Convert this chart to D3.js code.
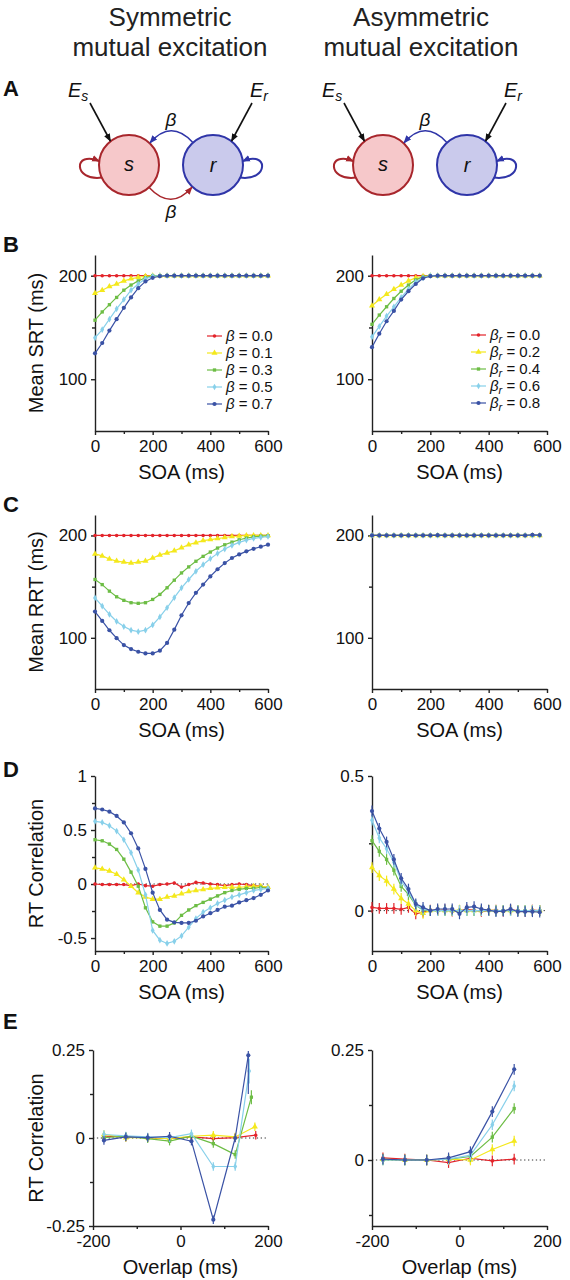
<!DOCTYPE html>
<html><head><meta charset="utf-8">
<script src="https://cdn.jsdelivr.net/npm/d3@7"></script>
<style>
body{margin:0;background:#fff;}
svg{display:block;font-family:"Liberation Sans",Arial,Helvetica,sans-serif;}
</style></head><body>
<svg id="fig" width="570" height="1280"></svg>
<script>
// ---------------- DATA ----------------
const seriesNames = ["red", "yellow", "green", "cyan", "blue"];
const betaSym = ["0.0", "0.1", "0.3", "0.5", "0.7"];
const betaAsym = ["0.0", "0.2", "0.4", "0.6", "0.8"];

const soaSym = [0,25,50,75,100,125,150,175,200,225,250,275,300,325,350,375,400,425,450,475,500,525,550,575,600];
const soaAsym = [0,25,50,75,100,125,150,175,200,225,250,275,300,325,350,375,400,425,450,475,500,525,550,575];
const overlapBins = [-175,-125,-75,-25,25,75,125];
const overlapLastSym = [172,170,162,157,155];

// B: Mean SRT
const srtSym0 = [200,200,200,200,200,200,200,200,200,200,200,200,200,200,200,200,200,200,200,200,200,200,200,200,200];
const srtSym1 = [183,186,189.5,192,195,197,198.5,199.5,200,200,200,200,200,200,200,200,200,200,200,200,200,200,200,200,200];
const srtSym3 = [157,165,172,179,186,191,195,198,200,200,200,200,200,200,200,200,200,200,200,200,200,200,200,200,200];
const srtSym5 = [140,148,158,168,177,186,192,197,199.5,200,200,200,200,200,200,200,200,200,200,200,200,200,200,200,200];
const srtSym7 = [125,135,147,158,169,179,188,194.5,198,199.5,200,200,200,200,200,200,200,200,200,200,200,200,200,200,200];

const srtAsym0 = [200,200,200,200,200,200,200,200,200,200,200,200,200,200,200,200,200,200,200,200,200,200,200,200];
const srtAsym2 = [171,177,182,187,191,195,198,199.5,200,200,200,200,200,200,200,200,200,200,200,200,200,200,200,200];
const srtAsym4 = [153,162,170,178,185,191,196,199,200,200,200,200,200,200,200,200,200,200,200,200,200,200,200,200];
const srtAsym6 = [141,151,161,170,179,187,194,198,200,200,200,200,200,200,200,200,200,200,200,200,200,200,200,200];
const srtAsym8 = [131,144,156,166,177,185,192,197.5,199.5,200,200,200,200,200,200,200,200,200,200,200,200,200,200,200];

// C: Mean RRT
const rrtSym0 = [200,200,200,200,200,200,200,200,200,200,200,200,200,200,200,200,200,200,200,200,200,200,200,200,200];
const rrtSym1 = [182,180,177,175,174,173,174,175,178,181,183,185,188,191,193,195,196,197,198,199,199.5,200,200,200,200];
const rrtSym3 = [157,152,145.6,140.1,136.6,134.3,133.7,134.3,137.5,142.4,148.9,156.3,163.4,169.3,174.8,179.6,183.8,187.7,190.9,193.5,195.8,197.4,198.7,199.4,199.7];
const rrtSym5 = [139,131,123,116,111,107.5,106,107.5,112.6,120.4,129.4,139.2,148.9,157,165,171.5,177.3,182.5,186.7,190.3,193.2,195.5,197.1,198.1,199];
const rrtSym7 = [125.6,116.5,107.4,99.7,92.9,89,86.4,84.8,84.8,87.4,95,108,122,134,144,152,160,167,173,178,181.5,184.5,187,189,191];

const rrtAsym0 = [200,200,200,200,200,200,200,200,200,200,200,200,200,200,200,200,200,200,200,200,200,200,200,200];
const rrtAsym2 = [200,200,200,200,200,200,200,200,200,200,200,200,200,200,200,200,200,200,200,200,200,200,200,200];
const rrtAsym4 = [200,200,200,200,200,200,200,200,200,200,200,200,200,200,200,200,200,200,200,200,200,200,200,200];
const rrtAsym6 = [200,200,200,200,200,200,200,200,200,200,200,200,200,200,200,200,200,200,200,200,200,200,200,200];
const rrtAsym8 = [200,200,200,200,200,200,200,200,200,200.3,200,200,200,200,200,200,200,200,200,200,200,200,200.6,200.4];

// D: RT correlation vs SOA
const corSym0 = [0,-0.005,-0.005,-0.005,-0.005,-0.015,0,-0.015,-0.02,-0.005,0,0.01,-0.028,-0.005,0.015,0.01,0,-0.005,-0.015,-0.005,0,-0.005,-0.015,-0.02,-0.035];
const corSym1 = [0.15,0.14,0.12,0.09,0.04,-0.02,-0.08,-0.12,-0.14,-0.14,-0.12,-0.11,-0.09,-0.07,-0.06,-0.05,-0.04,-0.035,-0.03,-0.03,-0.03,-0.025,-0.02,-0.02,-0.03];
const corSym3 = [0.41,0.40,0.37,0.32,0.23,0.11,-0.02,-0.22,-0.35,-0.39,-0.39,-0.36,-0.29,-0.24,-0.20,-0.17,-0.14,-0.11,-0.08,-0.06,-0.05,-0.04,-0.04,-0.03,-0.04];
const corSym5 = [0.58,0.57,0.54,0.49,0.41,0.29,0.13,-0.10,-0.43,-0.52,-0.55,-0.53,-0.48,-0.40,-0.32,-0.26,-0.22,-0.18,-0.15,-0.12,-0.10,-0.08,-0.06,-0.05,-0.04];
const corSym7 = [0.70,0.69,0.67,0.63,0.57,0.47,0.33,0.14,-0.08,-0.24,-0.33,-0.355,-0.36,-0.36,-0.34,-0.30,-0.27,-0.24,-0.21,-0.20,-0.17,-0.15,-0.13,-0.10,-0.06];

const corAsym0 = [0.012,0.008,0.008,0.008,0.005,0.012,-0.012,-0.006,0.002,0,0.003,-0.002,0,0.004,0.002,-0.003,0,0.002,-0.002,0.003,0,-0.002,0.002,0];
const corAsym2 = [0.16,0.13,0.11,0.08,0.045,0.025,0,-0.01,0,0.002,0,0,0.002,0,0,0,0.002,0,0,0,0,0,0,0];
const corAsym4 = [0.26,0.22,0.19,0.15,0.09,0.06,0.02,0.002,0,0,0,0,0,0,0,0,0,0,0,0,0,0,0,0];
const corAsym6 = [0.336,0.27,0.23,0.18,0.11,0.07,0.02,0.005,0,0,0,0,0,0,0,0,0,0,0,0,0,0,0,0];
const corAsym8 = [0.37,0.305,0.255,0.19,0.12,0.08,0.025,0.012,0,0.006,0.006,0.006,-0.012,0.012,0.015,0.006,0.002,-0.004,-0.002,0.006,-0.004,-0.004,-0.004,-0.006];
const corSymErr = 0.012;
const corAsymErr = 0.02;

// E: RT correlation vs overlap
const ovSym0 = [0.005,0.003,0.001,-0.002,0.003,-0.002,0.001,0.008];
const ovSym1 = [0.01,0.001,0.001,-0.002,0.005,0.008,0.003,0.032];
const ovSym3 = [0.001,0.005,-0.002,-0.009,0.005,-0.016,-0.047,0.116];
const ovSym5 = [0.01,0.006,0.003,0.001,0.012,-0.081,-0.081,0.19];
const ovSym7 = [-0.007,0.003,0.001,0.005,-0.009,-0.232,0.0,0.235];
const ovSymErrLastLo = [0.012,0.012,0.02,0.035,0.11];
const ovSymErrLastHi = [0.012,0.012,0.02,0.035,0.012];
const ovAsym0 = [0.005,0.002,0,-0.006,0.004,-0.002,0.002];
const ovAsym2 = [0.002,0,0,0.002,0,0.024,0.043];
const ovAsym4 = [0,0,0,0.002,0.008,0.052,0.117];
const ovAsym6 = [0,0,0,0.002,0.011,0.08,0.168];
const ovAsym8 = [0.002,0,0,0.005,0.019,0.11,0.206];
const ovErr = 0.012;

// ---------------- STYLE ----------------
const colors = ["#e3242b", "#f4e81c", "#6dbd45", "#88d0ea", "#3a52a5"];
const symbols = [d3.symbolCircle, d3.symbolTriangle, d3.symbolSquare, d3.symbolDiamond, d3.symbolCircle];
const symSizes = [10, 16, 11, 13, 14];

const svg = d3.select("#fig");
const LX = [95, 268], RX = [372, 547];

// ---------------- HEADERS ----------------
function header(cx, l1, l2) {
  const t = svg.append("g").attr("fill", "#222").attr("font-size", 26).attr("text-anchor", "middle");
  t.append("text").attr("x", cx).attr("y", 26).text(l1);
  t.append("text").attr("x", cx).attr("y", 56).text(l2);
}
header(170, "Symmetric", "mutual excitation");
header(421, "Asymmetric", "mutual excitation");

function panelLetter(txt, y) {
  svg.append("text").attr("x", 3).attr("y", y).attr("font-size", 22).attr("font-weight", "bold").attr("fill", "#111").text(txt);
}
panelLetter("A", 96); panelLetter("B", 252); panelLetter("C", 512); panelLetter("D", 777); panelLetter("E", 1029);

// ---------------- DIAGRAMS ----------------
const defs = svg.append("defs");
function mk(id, col) {
  defs.append("marker").attr("id", id).attr("viewBox", "0 0 10 8").attr("refX", 9).attr("refY", 4)
    .attr("markerWidth", 8).attr("markerHeight", 7).attr("markerUnits", "userSpaceOnUse").attr("orient", "auto")
    .append("path").attr("d", "M0,0 L10,4 L0,8 Z").attr("fill", col);
}
const sStroke = "#a8262c", sFill = "#f6c8ca", rStroke = "#2f35a8", rFill = "#cacaec";
mk("aBlack", "#111"); mk("aRed", sStroke); mk("aBlue", rStroke);

function eLabel(g, x, y, sub) {
  const t = g.append("text").attr("x", x).attr("y", y).attr("font-size", 20).attr("font-style", "italic").attr("fill", "#111");
  t.append("tspan").text("E");
  t.append("tspan").attr("font-size", 14).attr("dy", 4).text(sub);
}
function diagram(sx, rx, cy, sym) {
  const R = 30, g = svg.append("g");
  // self loops
  g.append("path").attr("d", `M${sx - R * 0.9},${cy + R * 0.42} C${sx - R - 26},${cy + R * 0.55} ${sx - R - 26},${cy - R * 0.5} ${sx - R * 0.99},${cy - R * 0.13}`)
    .attr("fill", "none").attr("stroke", sStroke).attr("stroke-width", 2).attr("marker-end", "url(#aRed)");
  g.append("path").attr("d", `M${rx + R * 0.9},${cy + R * 0.42} C${rx + R + 26},${cy + R * 0.55} ${rx + R + 26},${cy - R * 0.5} ${rx + R * 0.99},${cy - R * 0.13}`)
    .attr("fill", "none").attr("stroke", rStroke).attr("stroke-width", 2).attr("marker-end", "url(#aBlue)");
  // circles
  g.append("circle").attr("cx", sx).attr("cy", cy).attr("r", R).attr("fill", sFill).attr("stroke", sStroke).attr("stroke-width", 2);
  g.append("circle").attr("cx", rx).attr("cy", cy).attr("r", R).attr("fill", rFill).attr("stroke", rStroke).attr("stroke-width", 2);
  g.append("text").attr("x", sx).attr("y", cy + 6).attr("text-anchor", "middle").attr("font-size", 20).attr("font-style", "italic").attr("fill", "#111").text("s");
  g.append("text").attr("x", rx).attr("y", cy + 7).attr("text-anchor", "middle").attr("font-size", 20).attr("font-style", "italic").attr("fill", "#111").text("r");
  // top beta arc r -> s
  const mid = (sx + rx) / 2;
  g.append("path").attr("d", `M${rx - R * 0.68},${cy - R * 0.76} Q${mid},${cy - 46} ${sx + R * 0.7},${cy - R * 0.74}`)
    .attr("fill", "none").attr("stroke", rStroke).attr("stroke-width", 1.5).attr("marker-end", "url(#aBlue)");
  g.append("text").attr("x", mid).attr("y", cy - 39).attr("text-anchor", "middle").attr("font-size", 19).attr("font-style", "italic").attr("fill", "#111").text("β");
  if (sym) {
    g.append("path").attr("d", `M${sx + R * 0.68},${cy + R * 0.76} Q${mid},${cy + 46} ${rx - R * 0.7},${cy + R * 0.74}`)
      .attr("fill", "none").attr("stroke", sStroke).attr("stroke-width", 1.5).attr("marker-end", "url(#aRed)");
    g.append("text").attr("x", mid).attr("y", cy + 53).attr("text-anchor", "middle").attr("font-size", 19).attr("font-style", "italic").attr("fill", "#111").text("β");
  }
  // external inputs
  g.append("line").attr("x1", sx - 39).attr("y1", cy - 62).attr("x2", sx - R * 0.62).attr("y2", cy - R * 0.8)
    .attr("stroke", "#111").attr("stroke-width", 1.6).attr("marker-end", "url(#aBlack)");
  g.append("line").attr("x1", rx + 39).attr("y1", cy - 62).attr("x2", rx + R * 0.62).attr("y2", cy - R * 0.8)
    .attr("stroke", "#111").attr("stroke-width", 1.6).attr("marker-end", "url(#aBlack)");
  eLabel(g, sx - 61, cy - 68, "s");
  eLabel(g, rx + 37, cy - 68, "r");
}
diagram(129, 213, 165, true);
diagram(383, 467, 165, false);

// ---------------- PANELS ----------------
function drawPanel(o) {
  const g = svg.append("g");
  const x = d3.scaleLinear().domain(o.xd).range(o.xr);
  const y = d3.scaleLinear().domain(o.yd).range(o.yr);
  if (o.zero) {
    g.append("line").attr("x1", o.xr[0]).attr("x2", o.xr[1]).attr("y1", y(0)).attr("y2", y(0))
      .attr("stroke", "#333").attr("stroke-width", 1).attr("stroke-dasharray", "1.3,2.6");
  }
  const fmt = d => String(d);
  const ax = g.append("g").attr("transform", `translate(0,${o.yr[0]})`)
    .call(d3.axisBottom(x).tickValues(o.xTicks).tickSize(4).tickSizeOuter(0).tickPadding(5).tickFormat(fmt));
  const axm = g.append("g").attr("transform", `translate(0,${o.yr[0]})`)
    .call(d3.axisBottom(x).tickValues(o.xMinor).tickSize(3).tickFormat(""));
  axm.select(".domain").remove();
  const ay = g.append("g").attr("transform", `translate(${o.xr[0]},0)`)
    .call(d3.axisLeft(y).tickValues(o.yTicks).tickSize(4).tickSizeOuter(0).tickPadding(4).tickFormat(fmt));
  const aym = g.append("g").attr("transform", `translate(${o.xr[0]},0)`)
    .call(d3.axisLeft(y).tickValues(o.yMinor).tickSize(3).tickFormat(""));
  aym.select(".domain").remove();
  [ax, axm, ay, aym].forEach(a => {
    a.attr("font-size", 17).attr("font-family", null);
    a.selectAll("line,path").attr("stroke", "#222").attr("stroke-width", 1.4);
    a.selectAll("text").attr("fill", "#111");
  });
  // series
  o.series.forEach((s, i) => {
    const lo = s.errLo || s.err, hi = s.errHi || s.err;
    const pts = s.y.map((v, k) => ({ x: s.x[k], y: v,
      lo: Array.isArray(lo) ? lo[k] : (lo || 0), hi: Array.isArray(hi) ? hi[k] : (hi || 0) }));
    const sg = g.append("g");
    sg.append("path").datum(pts).attr("fill", "none").attr("stroke", colors[i]).attr("stroke-width", 1.2)
      .attr("d", d3.line().x(d => x(d.x)).y(d => y(d.y)));
    if (lo) {
      sg.selectAll("line.eb").data(pts).enter().append("line")
        .attr("x1", d => x(d.x)).attr("x2", d => x(d.x))
        .attr("y1", d => y(d.y - d.lo)).attr("y2", d => y(d.y + d.hi))
        .attr("stroke", colors[i]).attr("stroke-width", 1.2);
    }
    sg.selectAll("path.pt").data(pts).enter().append("path")
      .attr("transform", d => `translate(${x(d.x)},${y(d.y)})`)
      .attr("d", d3.symbol(symbols[i], symSizes[i])).attr("fill", colors[i]);
  });
  if (o.xLabel) {
    g.append("text").attr("x", (o.xr[0] + o.xr[1]) / 2).attr("y", o.yr[0] + 48).attr("text-anchor", "middle")
      .attr("font-size", 20).attr("fill", "#111").text(o.xLabel);
  }
  if (o.yLabel) {
    g.append("text").attr("transform", `translate(43,${(o.yr[0] + o.yr[1]) / 2}) rotate(-90)`).attr("text-anchor", "middle")
      .attr("font-size", 20).attr("fill", "#111").text(o.yLabel);
  }
  return { x, y };
}

function mkSeries(xs, arrs, err) { return arrs.map(a => ({ x: xs, y: a, err: err })); }

// B
drawPanel({ xr: LX, yr: [431, 255], xd: [0, 600], yd: [50, 220], xTicks: [0, 200, 400, 600], xMinor: [100, 300, 500],
  yTicks: [100, 200], yMinor: [150], xLabel: "SOA (ms)", yLabel: "Mean SRT (ms)",
  series: mkSeries(soaSym, [srtSym0, srtSym1, srtSym3, srtSym5, srtSym7]) });
drawPanel({ xr: RX, yr: [431, 255], xd: [0, 600], yd: [50, 220], xTicks: [0, 200, 400, 600], xMinor: [100, 300, 500],
  yTicks: [100, 200], yMinor: [150], xLabel: "SOA (ms)",
  series: mkSeries(soaAsym, [srtAsym0, srtAsym2, srtAsym4, srtAsym6, srtAsym8]) });

// legends
function legend(x0, y0, vals, sub) {
  const g = svg.append("g");
  vals.forEach((v, i) => {
    const yy = y0 + i * 17;
    g.append("line").attr("x1", x0).attr("x2", x0 + 15).attr("y1", yy).attr("y2", yy).attr("stroke", colors[i]).attr("stroke-width", 1.2);
    g.append("path").attr("transform", `translate(${x0 + 7.5},${yy})`).attr("d", d3.symbol(symbols[i], symSizes[i])).attr("fill", colors[i]);
    const t = g.append("text").attr("x", x0 + 19).attr("y", yy + 5).attr("font-size", 15).attr("fill", "#111");
    t.append("tspan").attr("font-style", "italic").text("β");
    if (sub) {
      t.append("tspan").attr("font-style", "italic").attr("font-size", 11).attr("dy", 3).text("r");
      t.append("tspan").attr("dy", -3).text(" = " + v);
    } else {
      t.append("tspan").text(" = " + v);
    }
  });
}
legend(207, 336, betaSym, false);
legend(471, 335, betaAsym, true);

// C
drawPanel({ xr: LX, yr: [689, 515], xd: [0, 600], yd: [50, 220], xTicks: [0, 200, 400, 600], xMinor: [100, 300, 500],
  yTicks: [100, 200], yMinor: [150], xLabel: "SOA (ms)", yLabel: "Mean RRT (ms)",
  series: mkSeries(soaSym, [rrtSym0, rrtSym1, rrtSym3, rrtSym5, rrtSym7]) });
drawPanel({ xr: RX, yr: [689, 515], xd: [0, 600], yd: [50, 220], xTicks: [0, 200, 400, 600], xMinor: [100, 300, 500],
  yTicks: [100, 200], yMinor: [150], xLabel: "SOA (ms)",
  series: mkSeries(soaAsym, [rrtAsym0, rrtAsym2, rrtAsym4, rrtAsym6, rrtAsym8]) });

// D
drawPanel({ xr: LX, yr: [951, 776], xd: [0, 600], yd: [-0.62, 1], xTicks: [0, 200, 400, 600], xMinor: [100, 300, 500],
  yTicks: [-0.5, 0, 0.5, 1], yMinor: [-0.25, 0.25, 0.75], xLabel: "SOA (ms)", yLabel: "RT Correlation", zero: true,
  series: mkSeries(soaSym, [corSym0, corSym1, corSym3, corSym5, corSym7], corSymErr) });
drawPanel({ xr: RX, yr: [951, 776], xd: [0, 600], yd: [-0.15, 0.5], xTicks: [0, 200, 400, 600], xMinor: [100, 300, 500],
  yTicks: [0, 0.5], yMinor: [0.25], xLabel: "SOA (ms)", zero: true,
  series: mkSeries(soaAsym, [corAsym0, corAsym2, corAsym4, corAsym6, corAsym8], corAsymErr) });

// E
const eSymArrs = [ovSym0, ovSym1, ovSym3, ovSym5, ovSym7];
drawPanel({ xr: [93, 268], yr: [1226, 1050], xd: [-200, 200], yd: [-0.25, 0.25], xTicks: [-200, 0, 200], xMinor: [-100, 100],
  yTicks: [-0.25, 0, 0.25], yMinor: [-0.125, 0.125], xLabel: "Overlap (ms)", yLabel: "RT Correlation", zero: true,
  series: eSymArrs.map((a, i) => ({ x: overlapBins.concat([overlapLastSym[i]]), y: a,
    errLo: overlapBins.map(() => ovErr).concat([ovSymErrLastLo[i]]),
    errHi: overlapBins.map(() => ovErr).concat([ovSymErrLastHi[i]]) })) });
drawPanel({ xr: [372, 547], yr: [1226, 1050], xd: [-200, 200], yd: [-0.15, 0.25], xTicks: [-200, 0, 200], xMinor: [-100, 100],
  yTicks: [0, 0.25], yMinor: [-0.125, 0.125], xLabel: "Overlap (ms)", zero: true,
  series: mkSeries(overlapBins, [ovAsym0, ovAsym2, ovAsym4, ovAsym6, ovAsym8], ovErr) });
</script>
</body></html>
